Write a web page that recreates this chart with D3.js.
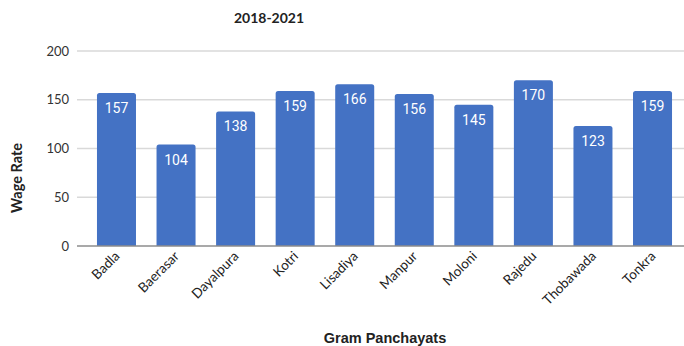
<!DOCTYPE html>
<html><head><meta charset="utf-8">
<script src="https://cdn.jsdelivr.net/npm/d3@7"></script>
<style>body{margin:0;background:#fff}svg{display:block}</style>
</head><body>
<script>
const categories = ["Badla","Baerasar","Dayalpura","Kotri","Lisadiya","Manpur","Moloni","Rajedu","Thobawada","Tonkra"];
const wageRates = [157,104,138,159,166,156,145,170,123,159];
const yTicks = [0,50,100,150,200];
const titleText = "2018-2021";
const xTitle = "Gram Panchayats";
const yTitle = "Wage Rate";

const W = 684, H = 346;
const svg = d3.select("body").append("svg").attr("width", W).attr("height", H);

const x = d3.scaleBand().domain(categories).range([86.7, 682.3]).paddingInner(0.345).paddingOuter(0.1725);
const y = d3.scaleLinear().domain([0, 200]).range([246, 51]);

// gridlines
svg.append("g").selectAll("line").data(yTicks.filter(d => d > 0)).join("line")
  .attr("x1", 77).attr("x2", 684)
  .attr("y1", d => y(d)).attr("y2", d => y(d))
  .attr("stroke", "#d9d9d9").attr("stroke-width", 1.5);

// y tick labels
svg.append("g").selectAll("text").data(yTicks).join("text")
  .attr("x", 69).attr("y", d => y(d) + 4.5)
  .attr("text-anchor", "end")
  .attr("font-family", "Lato, 'Open Sans', sans-serif").attr("font-size", 13)
  .attr("fill", "#333").text(d => d);

// bars with rounded top
const r = 2.5;
svg.append("g").selectAll("path").data(categories).join("path")
  .attr("d", (c, i) => {
    const x0 = x(c), w = x.bandwidth(), y0 = y(wageRates[i]), yb = y(0);
    return `M${x0},${yb}V${y0 + r}Q${x0},${y0} ${x0 + r},${y0}H${x0 + w - r}Q${x0 + w},${y0} ${x0 + w},${y0 + r}V${yb}Z`;
  })
  .attr("fill", "#4472c4");

// baseline
svg.append("line").attr("x1", 77).attr("x2", 684).attr("y1", y(0)).attr("y2", y(0))
  .attr("stroke", "#8c8c8c").attr("stroke-width", 1.5);

// value labels
svg.append("g").selectAll("text").data(categories).join("text")
  .attr("x", c => x(c) + x.bandwidth() / 2)
  .attr("y", (c, i) => y(wageRates[i]) + 20)
  .attr("text-anchor", "middle")
  .attr("font-family", "Roboto, sans-serif").attr("font-size", 14)
  .attr("fill", "#fff").text((c, i) => wageRates[i]);

// x labels
svg.append("g").selectAll("text").data(categories).join("text")
  .attr("transform", c => `translate(${x(c) + x.bandwidth() / 2 + 4},${257}) rotate(-45)`)
  .attr("text-anchor", "end")
  .attr("font-family", "Lato, 'Open Sans', sans-serif").attr("font-size", 13.5)
  .attr("fill", "#222").text(c => c);

// title
svg.append("text").attr("x", 269).attr("y", 23).attr("text-anchor", "middle")
  .attr("font-family", "Lato, sans-serif").attr("font-weight", "bold").attr("font-size", 14)
  .attr("fill", "#222").text(titleText);

// y title
svg.append("text").attr("transform", "translate(22,178) rotate(-90)")
  .attr("text-anchor", "middle")
  .attr("font-family", "Lato, sans-serif").attr("font-weight", "bold").attr("font-size", 14.5)
  .attr("fill", "#222").text(yTitle);

// x title
svg.append("text").attr("x", 385).attr("y", 343).attr("text-anchor", "middle")
  .attr("font-family", "'Liberation Sans', Arial, sans-serif").attr("font-weight", "bold").attr("font-size", 14.5)
  .attr("fill", "#222").text(xTitle);
</script>
</body></html>
